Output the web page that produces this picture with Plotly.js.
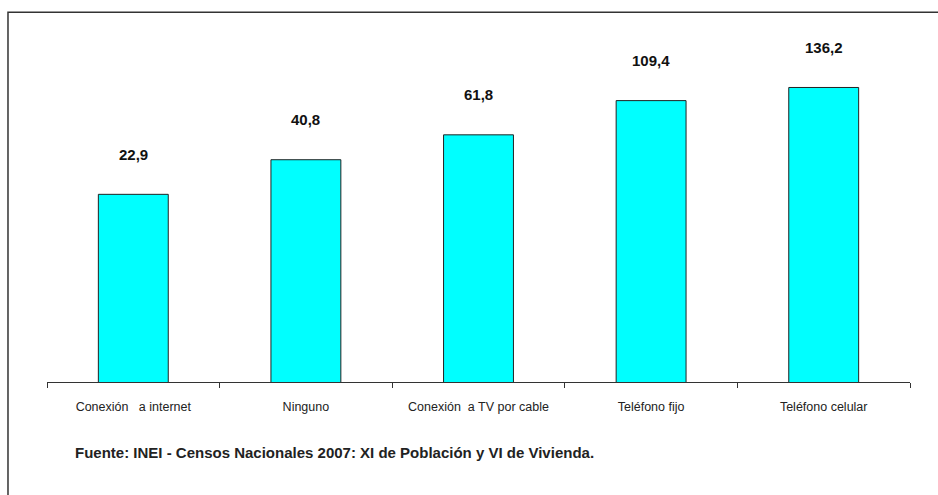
<!DOCTYPE html>
<html>
<head>
<meta charset="utf-8">
<script src="https://cdn.plot.ly/plotly-3.0.1.min.js"></script>
<style>html,body{margin:0;padding:0;background:#fff;}#chart{width:938px;height:495px;}</style>
</head>
<body>
<div id="chart"></div>
<script>
const categories = ["Conexión\u00a0\u00a0\u00a0a internet", "Ninguno", "Conexión\u00a0\u00a0a TV por cable", "Teléfono fijo", "Teléfono celular"];
const values = [22.9, 40.8, 61.8, 109.4, 136.2];
const valueLabels = ["22,9", "40,8", "61,8", "109,4", "136,2"];
const sourceText = "Fuente: INEI - Censos Nacionales 2007: XI de Población y VI de Vivienda.";

const FONT = "Liberation Sans, Arial, sans-serif";

const trace = {
  type: "bar",
  x: categories,
  y: values,
  marker: { color: "#00FFFF", line: { color: "#222222", width: 1 } },
  hoverinfo: "skip"
};

const annotations = categories.map((c, i) => ({
  x: c, y: Math.log10(values[i]), xref: "x", yref: "y",
  text: valueLabels[i], showarrow: false, yshift: 40,
  font: { family: FONT, size: 15, color: "#111", weight: "bold" }
}));
annotations.push({
  xref: "paper", yref: "paper", x: 0.0298, y: -0.203,
  xanchor: "left", yanchor: "middle", showarrow: false,
  text: "<b>" + sourceText + "</b>",
  font: { family: FONT, size: 15, color: "#222" }
});

const layout = {
  width: 938, height: 495,
  margin: { l: 47, r: 28, t: 36.7, b: 113.3 },
  paper_bgcolor: "#fff", plot_bgcolor: "#fff",
  showlegend: false,
  bargap: 0.595,
  xaxis: {
    type: "category",
    showline: true, linecolor: "#333", linewidth: 1,
    ticks: "outside", tickson: "boundaries", ticklen: 5, tickcolor: "#333",
    ticklabelstandoff: 13,
    tickfont: { family: FONT, size: 12.5, color: "#222" },
    showgrid: false, zeroline: false, fixedrange: true
  },
  yaxis: {
    type: "log", range: [0, 2.5], visible: false,
    showgrid: false, zeroline: false, fixedrange: true
  },
  shapes: [{
    type: "rect", xref: "paper", yref: "paper",
    x0: -0.0452, x1: 1.2, y0: -0.6, y1: 1.0716,
    line: { color: "#333", width: 1.5 }, fillcolor: "rgba(0,0,0,0)", layer: "below"
  }],
  annotations: annotations
};

Plotly.newPlot("chart", [trace], layout, { displayModeBar: false, staticPlot: true });
</script>
</body>
</html>
